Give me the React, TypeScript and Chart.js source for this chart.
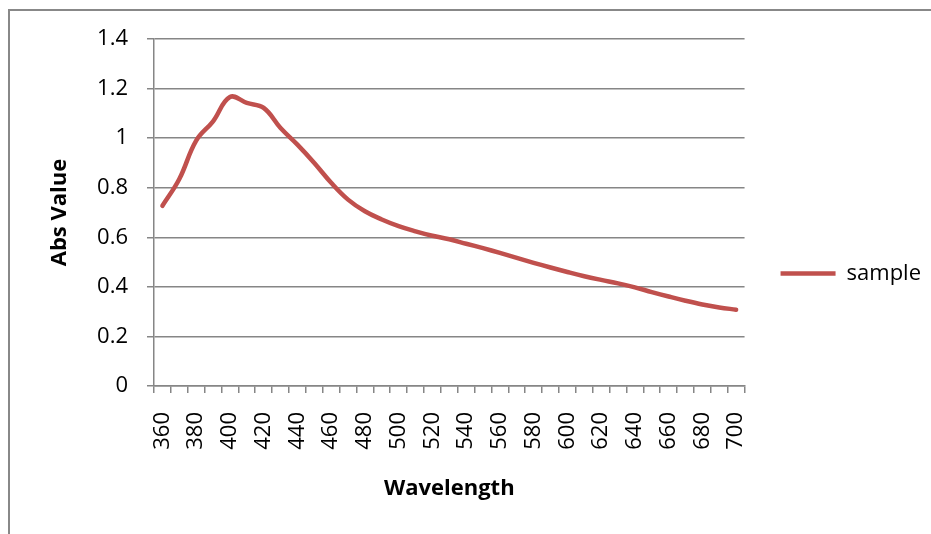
import React, { useEffect, useRef } from 'react';
import { Chart, registerables } from 'chart.js';

Chart.register(...registerables);

const wavelengths = [
  360, 370, 380, 390, 400, 410, 420, 430, 440, 450, 460, 470,
  480, 490, 500, 510, 520, 530, 540, 550, 560, 570, 580, 590,
  600, 610, 620, 630, 640, 650, 660, 670, 680, 690, 700,
];

const absValues = [
  0.727, 0.835, 0.99, 1.068, 1.166, 1.142, 1.122, 1.041, 0.974, 0.9, 0.82, 0.752,
  0.705, 0.672, 0.645, 0.624, 0.606, 0.592, 0.574, 0.556, 0.537, 0.517, 0.497, 0.478,
  0.46, 0.443, 0.428, 0.414, 0.398, 0.379, 0.361, 0.344, 0.329, 0.317, 0.308,
];

const seriesName = 'sample';
const xTitle = 'Wavelength';
const yTitle = 'Abs Value';
const yMin = 0;
const yMax = 1.4;
const yStep = 0.2;

const FONT = '"Open Sans", "Noto Sans", sans-serif';
const GRID = '#868686';

export default function App() {
  const ref = useRef<HTMLCanvasElement>(null);

  useEffect(() => {
    if (!ref.current) return;
    const chart = new Chart(ref.current, {
      type: 'line',
      data: {
        labels: wavelengths.map(String),
        datasets: [
          {
            label: seriesName,
            data: absValues,
            borderColor: '#C0504D',
            backgroundColor: '#C0504D',
            borderWidth: 4.5,
            pointRadius: 0,
            pointHoverRadius: 0,
            tension: 0.4,
            borderCapStyle: 'round',
            borderJoinStyle: 'round',
            fill: false,
          },
        ],
      },
      options: {
        responsive: false,
        animation: false,
        layout: { padding: { left: 0, top: 39, right: 0, bottom: 26 } },
        plugins: {
          legend: {
            position: 'right',
            labels: {
              usePointStyle: true,
              pointStyle: 'line',
              pointStyleWidth: 55,
              boxHeight: 4,
              padding: 36,
              color: '#000',
              font: { family: FONT, size: 22 },
            },
          },
          tooltip: { enabled: false },
        },
        scales: {
          x: {
            type: 'category',
            offset: true,
            grid: {
              offset: true,
              drawOnChartArea: false,
              drawTicks: true,
              tickLength: 7,
              color: GRID,
              lineWidth: 1.5,
            },
            border: { display: true, color: GRID, width: 1.5 },
            ticks: {
              autoSkip: false,
              minRotation: 90,
              maxRotation: 90,
              padding: 19,
              color: '#000',
              font: { family: FONT, size: 22 },
              callback: (_v: any, i: number) => (i % 2 === 0 ? String(wavelengths[i]) : ''),
            },
            title: {
              display: true,
              text: xTitle,
              color: '#000',
              font: { family: FONT, size: 22, weight: 'bold' },
              padding: { top: 0, bottom: 6 },
            },
            afterFit: (s: any) => {
              s.height = 122;
            },
          },
          y: {
            min: yMin,
            max: yMax,
            grid: {
              color: GRID,
              lineWidth: 1.5,
              tickLength: 7,
            },
            border: { display: true, color: GRID, width: 1.5 },
            ticks: {
              stepSize: yStep,
              padding: 19,
              color: '#000',
              font: { family: FONT, size: 22 },
              callback: (v: any) => String(Number(Number(v).toFixed(1))),
            },
            title: {
              display: true,
              text: yTitle,
              color: '#000',
              font: { family: FONT, size: 22, weight: 'bold' },
              padding: { top: 46.8, bottom: 0 },
            },
            afterFit: (s: any) => {
              s.width = 154;
            },
          },
        },
      },
    });
    return () => chart.destroy();
  }, []);

  return (
    <div
      style={{
        position: 'fixed',
        left: 0,
        top: 0,
        width: 931,
        height: 534,
        overflow: 'hidden',
        background: '#fff',
      }}
    >
      <div
        style={{
          position: 'absolute',
          left: 8,
          top: 9,
          width: 1200,
          height: 1200,
          borderLeft: '2px solid #888888',
          borderTop: '2px solid #888888',
        }}
      />
      <canvas
        ref={ref}
        width={931}
        height={534}
        style={{ position: 'absolute', left: 0, top: 0, display: 'block' }}
      />
    </div>
  );
}
